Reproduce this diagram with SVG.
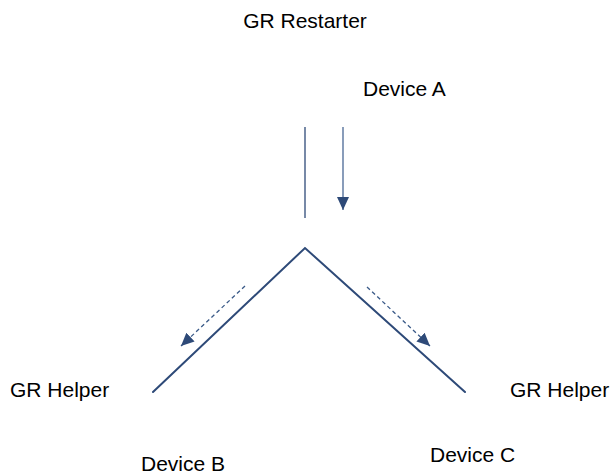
<svg xmlns="http://www.w3.org/2000/svg" width="610" height="475" viewBox="0 0 610 475">
  <style>
    .label { font-family: "Liberation Sans", Arial, sans-serif; font-size: 21px; fill: #000; }
    .thin { stroke: #2E4A78; stroke-width: 1.3; fill: none; }
    .msg { stroke: #4A6895; stroke-width: 1.3; fill: none; }
    .link { stroke: #2E4A78; stroke-width: 2; fill: none; stroke-linecap: round; }
    .dash { stroke: #3A5A88; stroke-width: 1.3; fill: none; stroke-dasharray: 4 3; }
  </style>
  <defs>
    <marker id="head" viewBox="0 0 13 12" refX="13" refY="6" markerWidth="13" markerHeight="12" markerUnits="userSpaceOnUse" orient="auto">
      <path d="M0,0 L13,6 L0,12 Z" fill="#2E4A78"/>
    </marker>
  </defs>
  <rect width="610" height="475" fill="#fff"/>

  <g id="restarter">
    <text class="label" x="305" y="28" text-anchor="middle">GR Restarter</text>
    <text class="label" x="363" y="96">Device A</text>
  </g>
  <g id="helper-b">
    <text class="label" x="10" y="397">GR Helper</text>
    <text class="label" x="141" y="471">Device B</text>
  </g>
  <g id="helper-c">
    <text class="label" x="510" y="397">GR Helper</text>
    <text class="label" x="430" y="462">Device C</text>
  </g>

  <g id="connectors">
    <line class="thin" x1="305" y1="127" x2="305" y2="218"/>
    <line class="msg" x1="343" y1="127" x2="343" y2="210" marker-end="url(#head)"/>
    <polyline class="link" points="153,392 305,248 465,392"/>
    <line class="dash" x1="245" y1="286" x2="181" y2="346" marker-end="url(#head)"/>
    <line class="dash" x1="367" y1="287" x2="430" y2="346" marker-end="url(#head)"/>
  </g>
</svg>
